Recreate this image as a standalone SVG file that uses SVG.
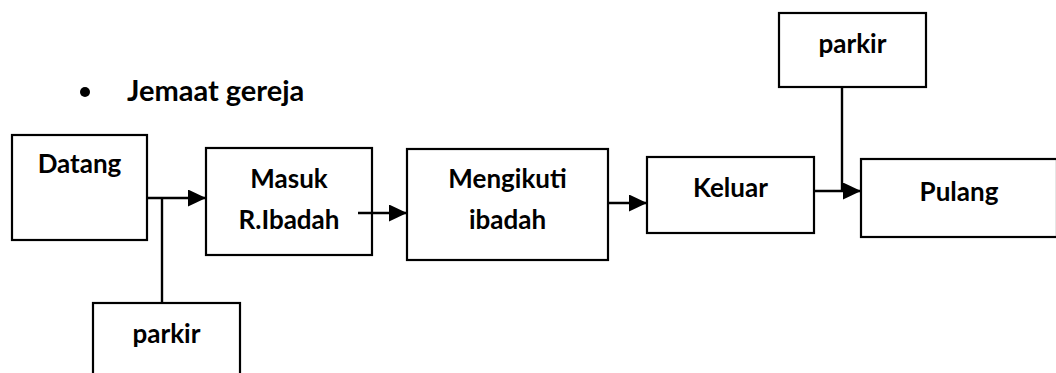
<svg xmlns="http://www.w3.org/2000/svg" width="1056" height="373" viewBox="0 0 1056 373">
  <style>
    .box { fill: #ffffff; stroke: #000000; stroke-width: 2.2; }
    .lbl { font-family: Lato, "Open Sans", "Liberation Sans", sans-serif; font-weight: bold; font-size: 26px; fill: #000000; text-anchor: middle; }
    .title { font-family: Lato, "Open Sans", "Liberation Sans", sans-serif; font-weight: bold; font-size: 29px; fill: #000000; }
    .wire { fill: none; stroke: #000000; stroke-width: 2.4; }
  </style>
  <defs>
    <marker id="arrow" markerUnits="userSpaceOnUse" markerWidth="19" markerHeight="17" refX="18" refY="8.5" orient="auto">
      <path d="M0,0 L18,8.5 L0,17 Z" fill="#000000"/>
    </marker>
  </defs>
  <rect width="1056" height="373" fill="#ffffff"/>

  <!-- heading -->
  <g id="heading">
    <circle cx="85" cy="92" r="5" fill="#000000"/>
    <text class="title" x="127" y="101">Jemaat gereja</text>
  </g>

  <!-- process steps -->
  <g id="datang">
    <rect class="box" x="12" y="135" width="135" height="105"/>
    <text class="lbl" x="79.5" y="173">Datang</text>
  </g>
  <g id="parkir-bawah">
    <rect class="box" x="93" y="303" width="147" height="80"/>
    <text class="lbl" x="166.5" y="343">parkir</text>
  </g>
  <g id="masuk">
    <rect class="box" x="206" y="148" width="166" height="107"/>
    <text class="lbl" x="289" y="188">Masuk</text>
    <text class="lbl" x="289" y="229">R.Ibadah</text>
  </g>
  <g id="mengikuti">
    <rect class="box" x="407" y="149" width="201" height="111"/>
    <text class="lbl" x="507.5" y="188">Mengikuti</text>
    <text class="lbl" x="507.5" y="229">ibadah</text>
  </g>
  <g id="keluar">
    <rect class="box" x="647" y="157" width="167" height="76"/>
    <text class="lbl" x="730.5" y="197">Keluar</text>
  </g>
  <g id="parkir-atas">
    <rect class="box" x="779" y="13" width="147" height="74"/>
    <text class="lbl" x="852.5" y="53">parkir</text>
  </g>
  <g id="pulang">
    <rect class="box" x="861" y="159" width="196" height="78"/>
    <text class="lbl" x="959" y="201">Pulang</text>
  </g>

  <!-- connectors -->
  <g id="connectors">
    <path class="wire" d="M147,198 L206,198" marker-end="url(#arrow)"/>
    <path class="wire" d="M162,198 L162,303"/>
    <path class="wire" d="M358,213 L407,213" marker-end="url(#arrow)"/>
    <path class="wire" d="M608,203 L647,203" marker-end="url(#arrow)"/>
    <path class="wire" d="M814,191 L861,191" marker-end="url(#arrow)"/>
    <path class="wire" d="M842,87 L842,191"/>
  </g>
</svg>
